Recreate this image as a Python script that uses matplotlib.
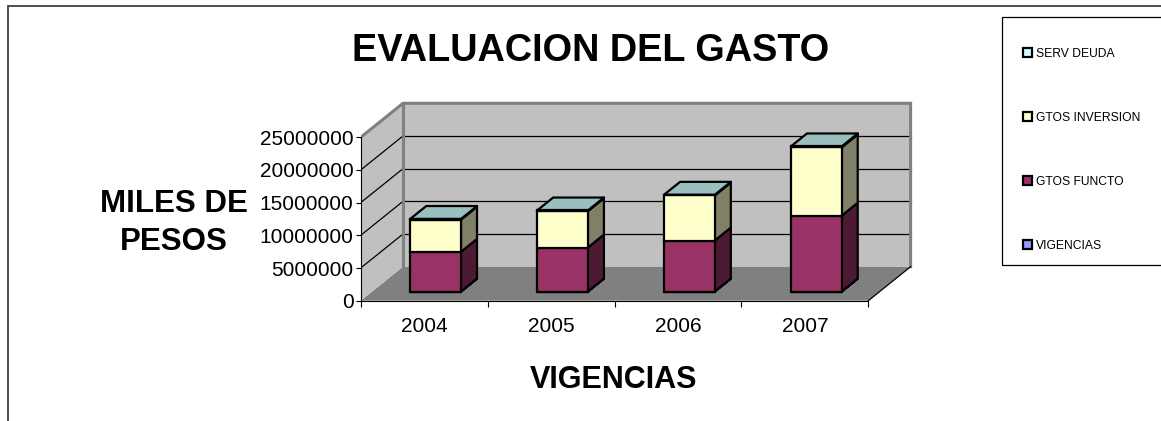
import numpy as np
import matplotlib
matplotlib.use("Agg")
import matplotlib.pyplot as plt
from matplotlib.patches import Polygon, Rectangle, Patch
from matplotlib.colors import to_rgb
from matplotlib import font_manager

# data (miles de pesos)
years = ["2004", "2005", "2006", "2007"]
vigencias = [2004, 2005, 2006, 2007]
gtos_functo = [6070000, 6730000, 7800000, 11600000]
gtos_inversion = [4930000, 5570000, 6900000, 10450000]
serv_deuda = [100000, 100000, 100000, 150000]
series_names = ["VIGENCIAS", "GTOS FUNCTO", "GTOS INVERSION", "SERV DEUDA"]
series_colors = ["#9999FF", "#993366", "#FFFFCC", "#CCFFFF"]
y_ticks = [0, 5000000, 10000000, 15000000, 20000000, 25000000]

# no Arial Narrow here, so a narrow family if there is one, else smaller Liberation Sans
names = {f.name for f in font_manager.fontManager.ttflist}
if "Liberation Sans Narrow" in names:
    narrow, tick_fs, leg_fs = "Liberation Sans Narrow", 17.5, 9.5
else:
    narrow, tick_fs, leg_fs = "Liberation Sans", 15, 8.7
bold = "Liberation Sans"

W, H = 1161, 421
fig = plt.figure(figsize=(W / 100, H / 100), dpi=100)

# front plane of the 3d box in pixels
x0_px, x1_px = 360.7, 868.3
y0_px = 300.7
ppm = 6.536  # pixels per million
ux = (x1_px - x0_px) / 4
xlim = (-0.5, 3.9)
ylim = (0, 31e6)
ax = fig.add_axes([x0_px / W, (H - y0_px) / H,
                   (xlim[1] - xlim[0]) * ux / W, (ylim[1] / 1e6) * ppm / H])
ax.set_xlim(xlim)
ax.set_ylim(ylim)
ax.patch.set_visible(False)

# depth vector in data units
ddx = 42.3 / ux
ddy = 34.0 / ppm * 1e6
top = y_ticks[-1]
L, R = -0.5, 3.5

floor = Polygon([(L, 0), (R, 0), (R + ddx, ddy), (L + ddx, ddy)], fc="#808080", ec="none", zorder=1)
lwall = Polygon([(L, 0), (L, top), (L + ddx, top + ddy), (L + ddx, ddy)], fc="#C0C0C0", ec="none", zorder=1)
bwall = Polygon([(L + ddx, ddy), (R + ddx, ddy), (R + ddx, top + ddy), (L + ddx, top + ddy)],
                fc="#C0C0C0", ec="none", zorder=1)
for p in (floor, lwall, bwall):
    ax.add_patch(p)

for v in y_ticks[1:-1]:
    ax.plot([L, L + ddx], [v, v + ddy], color="black", lw=0.9, zorder=2)
    ax.plot([L + ddx, R + ddx], [v + ddy, v + ddy], color="black", lw=0.9, zorder=2)

# grey border of the walls
ax.plot([L, L + ddx, R + ddx, R + ddx], [top, top + ddy, top + ddy, ddy], color="#808080", lw=2.2, zorder=3,
        solid_joinstyle="miter")
ax.plot([L + ddx, L + ddx], [ddy, top + ddy], color="#808080", lw=2.2, zorder=3)
ax.plot([R, R + ddx], [0, ddy], color="black", lw=0.9, zorder=3)

# bars
x = np.arange(len(years))
d0, d1 = 0.27, 0.65
bw = 0.40
data = [vigencias, gtos_functo, gtos_inversion, serv_deuda]
bottom = np.zeros(len(years))
for k, (name, vals, col) in enumerate(zip(series_names, data, series_colors)):
    vals = np.array(vals, dtype=float)
    xf = x + d0 * ddx
    yb = bottom + d0 * ddy
    ax.bar(xf, vals, width=bw, bottom=yb, color=col, edgecolor="black", linewidth=1.6, zorder=5)
    rgb = np.array(to_rgb(col))
    sx, sy = (d1 - d0) * ddx, (d1 - d0) * ddy
    for i in range(len(years)):
        xr = xf[i] + bw / 2
        side = [(xr, yb[i]), (xr + sx, yb[i] + sy), (xr + sx, yb[i] + vals[i] + sy), (xr, yb[i] + vals[i])]
        ax.add_patch(Polygon(side, fc=rgb * 0.5, ec="black", lw=1.6, joinstyle="round", zorder=4))
        if k == len(data) - 1:
            yt = yb[i] + vals[i]
            xl = xf[i] - bw / 2
            lid = [(xl, yt), (xr, yt), (xr + sx, yt + sy), (xl + sx, yt + sy)]
            ax.add_patch(Polygon(lid, fc=rgb * 0.75, ec="black", lw=1.6, joinstyle="round", zorder=4))
    bottom += vals

# axes
for s in ("top", "right"):
    ax.spines[s].set_visible(False)
ax.spines["left"].set_bounds(0, top)
ax.spines["bottom"].set_bounds(L, R)
ax.spines["left"].set_zorder(6)
ax.spines["bottom"].set_zorder(6)
ax.set_yticks(y_ticks)
ax.set_yticklabels([str(v) for v in y_ticks], fontsize=tick_fs, family=narrow)
ax.tick_params(axis="y", direction="out", length=3.6, width=0.8, pad=1.5)
ax.set_xticks(x)
ax.set_xticklabels(years, fontsize=tick_fs, family=narrow)
ax.set_xticks([L, 0.5, 1.5, 2.5, R], minor=True)
ax.tick_params(axis="x", which="major", length=0, pad=12)
ax.tick_params(axis="x", which="minor", direction="out", length=4, width=0.8)

def fy(py):
    return (H - py) / H

fig.text(591 / W, fy(61), "EVALUACION DEL GASTO", ha="center", va="baseline",
         fontsize=27.3, fontweight="bold", family=bold)
fig.text(174 / W, fy(212), "MILES DE", ha="center", va="baseline", fontsize=22.5, fontweight="bold", family=bold)
fig.text(174 / W, fy(250), "PESOS", ha="center", va="baseline", fontsize=22.5, fontweight="bold", family=bold)
fig.text(614 / W, fy(388), "VIGENCIAS", ha="center", va="baseline", fontsize=22, fontweight="bold", family=bold)

# chart border and legend box
fig.add_artist(Rectangle((8 / W, -0.1), 1.2, fy(6) + 0.1, transform=fig.transFigure,
                         fc="none", ec="#404040", lw=1.3))
fig.add_artist(Rectangle((1002 / W, fy(265)), 0.2, (265 - 17) / H, transform=fig.transFigure,
                         fc="white", ec="black", lw=0.9))

handles = [Patch(fc=c, ec="black", lw=1.6) for c in series_colors][::-1]
fig.legend(handles, series_names[::-1], loc="upper left", bbox_to_anchor=(1017 / W, fy(42)),
           frameon=False, borderpad=0, prop={"family": narrow, "size": leg_fs},
           handlelength=0.75, handleheight=0.75, handletextpad=0.3, labelspacing=4.3)

fig.savefig("out.png", dpi=100)
